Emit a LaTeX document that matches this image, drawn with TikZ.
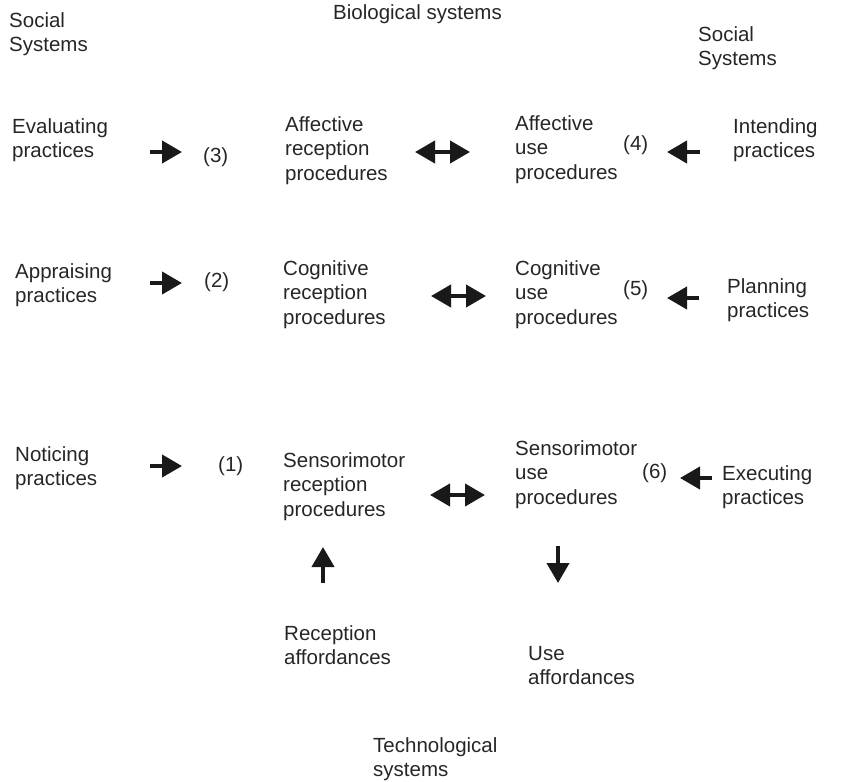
\documentclass[tikz,border=0pt]{standalone}
\usepackage{fontspec}
\setmainfont{Liberation Sans}
\usetikzlibrary{arrows.meta}
\tikzset{
  txt/.style={anchor=north west, inner sep=0pt, align=left, text=black!85,
    font=\fontsize{20.5}{24.5}\selectfont},
  num/.style={anchor=west, inner sep=0pt, text=black!85,
    font=\fontsize{20.5}{24.5}\selectfont},
  blockarrow/.style={draw=black!90, line width=4pt, -{Triangle[length=20pt,width=22pt]}},
  dblarrow/.style={draw=black!90, line width=4pt, {Triangle[length=20pt,width=22pt]}-{Triangle[length=20pt,width=22pt]}}
}
\begin{document}
\begin{tikzpicture}[x=1pt,y=1pt,yscale=-1,xscale=1]
\useasboundingbox (0,0) rectangle (845,781);

% Text Node
\node[txt] (socl) at (9,12) {Social\\Systems};
% Text Node
\node[txt] (bio) at (333,4) {Biological systems};
% Text Node
\node[txt] (socr) at (698,26) {Social\\Systems};

% Text Node
\node[txt] (evalprac) at (12,118) {Evaluating\\practices};
% Text Node
\node[num] (n3) at (203,157) {(3)};
% Text Node
\node[txt] (affrec) at (285,116) {Affective\\reception\\procedures};
% Text Node
\node[txt] (affuse) at (515,115) {Affective\\use\\procedures};
% Text Node
\node[num] (n4) at (623,145) {(4)};
% Text Node
\node[txt] (intprac) at (733,118) {Intending\\practices};

% Text Node
\node[txt] (apprprac) at (15,263) {Appraising\\practices};
% Text Node
\node[num] (n2) at (204,282) {(2)};
% Text Node
\node[txt] (cogrec) at (283,260) {Cognitive\\reception\\procedures};
% Text Node
\node[txt] (coguse) at (515,260) {Cognitive\\use\\procedures};
% Text Node
\node[num] (n5) at (623,290) {(5)};
% Text Node
\node[txt] (planprac) at (727,278) {Planning\\practices};

% Text Node
\node[txt] (notprac) at (15,446) {Noticing\\practices};
% Text Node
\node[num] (n1) at (218,466) {(1)};
% Text Node
\node[txt] (senrec) at (283,452) {Sensorimotor\\reception\\procedures};
% Text Node
\node[txt] (senuse) at (515,440) {Sensorimotor\\use\\procedures};
% Text Node
\node[num] (n6) at (642,473) {(6)};
% Text Node
\node[txt] (execprac) at (722,465) {Executing\\practices};

% Text Node
\node[txt] (recaff) at (284,625) {Reception\\affordances};
% Text Node
\node[txt] (useaff) at (528,646) {Use\\affordances};
% Text Node
\node[txt] (tech) at (373,737) {Technological\\systems};

%Arrow ends
\coordinate (a3s) at (150,152); \coordinate (a3e) at (182,152);
\coordinate (a2s) at (150,283); \coordinate (a2e) at (182,283);
\coordinate (a1s) at (150,466); \coordinate (a1e) at (182,466);
\coordinate (affl) at (415,152); \coordinate (affr) at (470,152);
\coordinate (cogl) at (431,296); \coordinate (cogr) at (486,296);
\coordinate (senl) at (430,495); \coordinate (senr) at (485,495);
\coordinate (a4s) at (700,152); \coordinate (a4e) at (667,152);
\coordinate (a5s) at (699,298); \coordinate (a5e) at (667,298);
\coordinate (a6s) at (712,478); \coordinate (a6e) at (680,478);
\coordinate (ups) at (323,583); \coordinate (upe) at (323,547);
\coordinate (dns) at (558,546); \coordinate (dne) at (558,583);

%Straight Lines
\draw[blockarrow] (a3s) -- (a3e);
\draw[blockarrow] (a2s) -- (a2e);
\draw[blockarrow] (a1s) -- (a1e);
%Straight Lines
\draw[dblarrow] (affl) -- (affr);
\draw[dblarrow] (cogl) -- (cogr);
\draw[dblarrow] (senl) -- (senr);
%Straight Lines
\draw[blockarrow] (a4s) -- (a4e);
\draw[blockarrow] (a5s) -- (a5e);
\draw[blockarrow] (a6s) -- (a6e);
%Straight Lines
\draw[blockarrow] (ups) -- (upe);
\draw[blockarrow] (dns) -- (dne);

\end{tikzpicture}
\end{document}
